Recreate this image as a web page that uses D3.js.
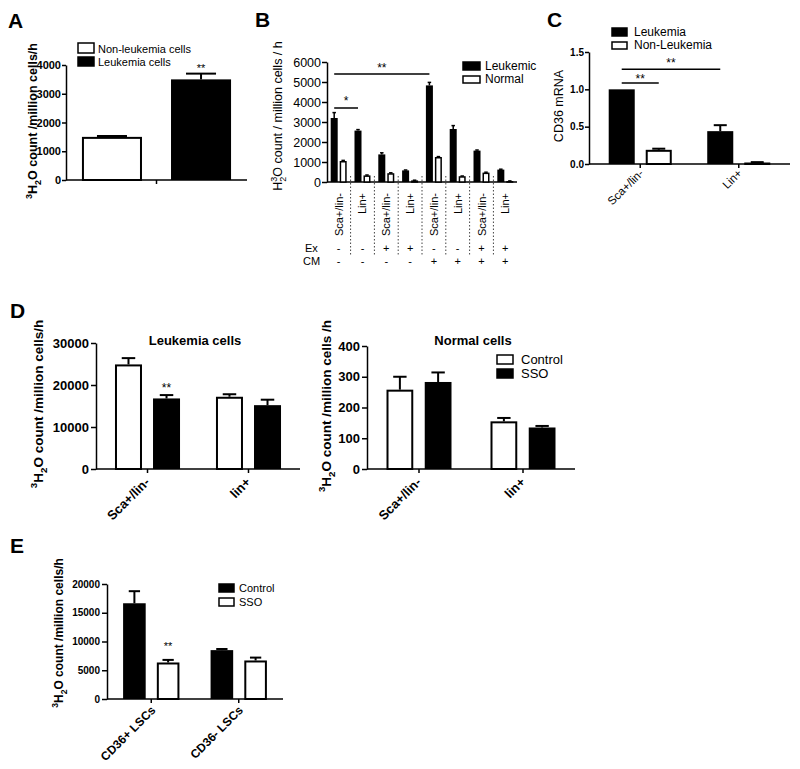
<!DOCTYPE html>
<html><head><meta charset="utf-8">
<script src="https://cdn.jsdelivr.net/npm/d3@7"></script>
<style>body{margin:0;background:#fff}svg{display:block}</style>
</head><body>
<script>
// ---------------- DATA ----------------
// Panel A
const aSeries = ["Non-leukemia cells", "Leukemia cells"];
const aValues = [1500, 3500];
const aErrTop = [1530, 3700];
const aTicks = [0, 1000, 2000, 3000, 4000];

// Panel B
const bGroups = ["Sca+/lin-", "Lin+", "Sca+/lin-", "Lin+", "Sca+/lin-", "Lin+", "Sca+/lin-", "Lin+"];
const bLeukemic = [3200, 2570, 1380, 580, 4830, 2650, 1570, 620];
const bLeukemicErr = [3470, 2620, 1460, 600, 4980, 2820, 1600, 640];
const bNormal = [1050, 330, 440, 80, 1250, 290, 470, 50];
const bNormalErr = [1080, 350, 460, 90, 1270, 300, 490, 55];
const bEx = ["-", "-", "+", "+", "-", "-", "+", "+"];
const bCM = ["-", "-", "-", "-", "+", "+", "+", "+"];
const bTicks = [0, 1000, 2000, 3000, 4000, 5000, 6000];

// Panel C
const cGroups = ["Sca+/lin-", "Lin+"];
const cLeukemia = [1.0, 0.44];
const cLeukemiaErr = [1.0, 0.52];
const cNonLeukemia = [0.19, 0.02];
const cNonLeukemiaErr = [0.205, 0.025];
const cTicks = [0, 0.5, 1.0, 1.5];

// Panel D (left: leukemia cells, right: normal cells)
const dGroups = ["Sca+/lin-", "lin+"];
const dLeukControl = [24900, 17200];
const dLeukControlErr = [26400, 17800];
const dLeukSSO = [16800, 15200];
const dLeukSSOErr = [17600, 16500];
const dLeukTicks = [0, 10000, 20000, 30000];
const dNormControl = [258, 155];
const dNormControlErr = [300, 166];
const dNormSSO = [283, 135];
const dNormSSOErr = [314, 140];
const dNormTicks = [0, 100, 200, 300, 400];

// Panel E
const eGroups = ["CD36+ LSCs", "CD36- LSCs"];
const eControl = [16650, 8500];
const eControlErr = [18750, 8700];
const eSSO = [6350, 6700];
const eSSOErr = [6800, 7200];
const eTicks = [0, 5000, 10000, 15000, 20000];

// ---------------- DRAWING ----------------
const FONT = "'Liberation Sans', Arial, Helvetica, sans-serif";
const svg = d3.select("body").append("svg").attr("width", 800).attr("height", 769)
  .attr("font-family", FONT);

function drawPanel(p) {
  const g = svg.append("g");
  const x = d3.scaleBand().domain(d3.range(p.labels.length)).range([p.x0, p.x1])
    .paddingInner(p.gIn).paddingOuter(p.gOut);
  const xs = d3.scaleBand().domain(p.series.map(s => s.name)).range([0, x.bandwidth()])
    .paddingInner(p.sIn);
  const y = d3.scaleLinear().domain([0, p.yMax]).range([p.yBase, p.yTop]);

  const ya = g.append("g").attr("transform", `translate(${p.x0},0)`)
    .call(d3.axisLeft(y).tickValues(p.ticks).tickSize(p.tickLen).tickSizeOuter(0)
      .tickPadding(p.tickPad).tickFormat(p.fmt || d3.format("d")));
  ya.select(".domain").attr("stroke", "#000").attr("stroke-width", 1.5);
  ya.selectAll(".tick line").attr("stroke", "#000").attr("stroke-width", 1.5);
  ya.selectAll(".tick text").attr("font-family", FONT).attr("font-size", p.tickSize)
    .attr("font-weight", p.tickBold ? "bold" : "normal").attr("fill", "#000");

  g.append("line").attr("x1", p.x0).attr("x2", p.x1).attr("y1", p.yBase).attr("y2", p.yBase)
    .attr("stroke", "#000").attr("stroke-width", 1.5);
  if (p.xTicks) {
    g.selectAll(null).data(d3.range(p.labels.length)).enter().append("line")
      .attr("x1", i => x(i) + x.bandwidth() / 2).attr("x2", i => x(i) + x.bandwidth() / 2)
      .attr("y1", p.yBase).attr("y2", p.yBase + 4).attr("stroke", "#000").attr("stroke-width", 1.5);
  }

  p.series.forEach(s => {
    const sw = p.barStroke;
    g.selectAll(null).data(s.values).enter().append("rect")
      .attr("x", (d, i) => x(i) + xs(s.name) + (s.fill === "#fff" ? sw / 2 : 0))
      .attr("y", d => y(d) + (s.fill === "#fff" ? sw / 2 : 0))
      .attr("width", xs.bandwidth() - (s.fill === "#fff" ? sw : 0))
      .attr("height", d => Math.max(0, p.yBase - y(d) - (s.fill === "#fff" ? sw / 2 : 0)))
      .attr("fill", s.fill).attr("stroke", "#000").attr("stroke-width", s.fill === "#fff" ? sw : 0);
    // error bars (upper only)
    const cw = xs.bandwidth() * 0.5;
    s.values.forEach((v, i) => {
      const e = s.err[i];
      if (e <= v) return;
      const cx = x(i) + xs(s.name) + xs.bandwidth() / 2;
      g.append("line").attr("x1", cx).attr("x2", cx).attr("y1", y(v)).attr("y2", y(e))
        .attr("stroke", "#000").attr("stroke-width", p.errStroke);
      g.append("line").attr("x1", cx - cw / 2).attr("x2", cx + cw / 2).attr("y1", y(e)).attr("y2", y(e))
        .attr("stroke", "#000").attr("stroke-width", p.errStroke);
    });
  });

  // x labels
  if (p.xLabelMode === "rot45") {
    g.selectAll(null).data(p.labels).enter().append("text")
      .attr("transform", (d, i) => `translate(${x(i) + x.bandwidth() / 2 + p.lx},${p.yBase + p.ly}) rotate(-45)`)
      .attr("text-anchor", "end").attr("font-size", p.labelSize)
      .attr("font-weight", p.labelBold ? "bold" : "normal").text(d => d);
  } else if (p.xLabelMode === "rot90") {
    g.selectAll(null).data(p.labels).enter().append("text")
      .attr("transform", (d, i) => `translate(${x(i) + x.bandwidth() / 2 + p.lx},${p.yBase + p.ly}) rotate(-90)`)
      .attr("text-anchor", "end").attr("font-size", p.labelSize)
      .attr("font-weight", p.labelBold ? "bold" : "normal").text(d => d);
  }
  return { x, xs, y, g };
}

function center(P, i, name) { return P.x(i) + P.xs(name) + P.xs.bandwidth() / 2; }

function bracket(P, i1, n1, i2, n2, val, label, size, textDy) {
  const x1 = center(P, i1, n1), x2 = center(P, i2, n2), yy = P.y(val);
  svg.append("line").attr("x1", x1).attr("x2", x2).attr("y1", yy).attr("y2", yy)
    .attr("stroke", "#000").attr("stroke-width", 1.5);
  svg.append("text").attr("x", (x1 + x2) / 2).attr("y", yy + textDy).attr("text-anchor", "middle")
    .attr("font-size", size).text(label);
}

function starAt(P, i, name, val, label, size) {
  svg.append("text").attr("x", center(P, i, name)).attr("y", P.y(val)).attr("text-anchor", "middle")
    .attr("font-size", size).text(label);
}

function legendItem(x, y, w, h, fill, label, tx, baseline, size) {
  svg.append("rect").attr("x", x).attr("y", y).attr("width", w).attr("height", h)
    .attr("fill", fill).attr("stroke", "#000").attr("stroke-width", 1.5);
  svg.append("text").attr("x", tx).attr("y", baseline).attr("font-size", size).text(label);
}

function yLabel3H2O(cx, cy, size, weight, rest) {
  const t = svg.append("text").attr("transform", `translate(${cx},${cy}) rotate(-90)`)
    .attr("text-anchor", "middle").attr("font-size", size).attr("font-weight", weight);
  t.append("tspan").attr("font-size", size * 0.72).attr("dy", -size * 0.42).text("3");
  t.append("tspan").attr("dy", size * 0.42).text("H");
  t.append("tspan").attr("font-size", size * 0.72).attr("dy", size * 0.3).text("2");
  t.append("tspan").attr("dy", -size * 0.3).text(rest);
}

function panelLetter(x, y, s) {
  svg.append("text").attr("x", x).attr("y", y).attr("font-size", 21).attr("font-weight", "bold").text(s);
}

// ---------- Panel A ----------
const PA = drawPanel({
  labels: [""], series: [
    { name: aSeries[0], values: [aValues[0]], err: [aErrTop[0]], fill: "#fff" },
    { name: aSeries[1], values: [aValues[1]], err: [aErrTop[1]], fill: "#000" }],
  x0: 66, x1: 247, yBase: 180, yTop: 65, yMax: 4000, ticks: aTicks,
  gIn: 0, gOut: 0.107, sIn: 0.326, tickLen: 4, tickPad: 1, tickSize: 11, tickBold: true,
  xTicks: true, barStroke: 2, errStroke: 2, xLabelMode: "none"
});
starAt(PA, 0, aSeries[1], 3757, "**", 11);
panelLetter(8, 28, "A");
yLabel3H2O(37, 121, 12.5, "bold", "O count /million cells/h");
legendItem(78, 43, 16, 10, "#fff", "Non-leukemia cells", 98, 53, 11);
legendItem(78, 57, 16, 9, "#000", "Leukemia cells", 98, 66, 11);

// ---------- Panel B ----------
const PB = drawPanel({
  labels: bGroups, series: [
    { name: "Leukemic", values: bLeukemic, err: bLeukemicErr, fill: "#000" },
    { name: "Normal", values: bNormal, err: bNormalErr, fill: "#fff" }],
  x0: 327, x1: 517, yBase: 182, yTop: 62, yMax: 6000, ticks: bTicks,
  gIn: 0.328, gOut: 0.155, sIn: 0.22, tickLen: 5, tickPad: 1, tickSize: 12.5, tickBold: false,
  xTicks: false, barStroke: 1.5, errStroke: 1.5, xLabelMode: "rot90", lx: 4, ly: 11, labelSize: 11, labelBold: false
});
// dotted separators
d3.range(1, bGroups.length).forEach(i => {
  const xx = (PB.x(i - 1) + PB.x.bandwidth() + PB.x(i)) / 2;
  svg.append("line").attr("x1", xx).attr("x2", xx).attr("y1", 176).attr("y2", 256)
    .attr("stroke", "#444").attr("stroke-width", 1).attr("stroke-dasharray", "1.5,2");
});
svg.append("text").attr("x", 305).attr("y", 252).attr("font-size", 11).text("Ex");
svg.append("text").attr("x", 303).attr("y", 265).attr("font-size", 11).text("CM");
bEx.forEach((s, i) => svg.append("text").attr("x", PB.x(i) + PB.x.bandwidth() / 2).attr("y", 252)
  .attr("text-anchor", "middle").attr("font-size", 11).text(s));
bCM.forEach((s, i) => svg.append("text").attr("x", PB.x(i) + PB.x.bandwidth() / 2).attr("y", 265)
  .attr("text-anchor", "middle").attr("font-size", 11).text(s));
bracket(PB, 0, "Leukemic", 4, "Leukemic", 5400, "**", 12, -2);
bracket(PB, 0, "Leukemic", 1, "Leukemic", 3700, "*", 12, -3);
panelLetter(255, 27, "B");
{
  const size = 12.5;
  const t = svg.append("text").attr("transform", `translate(282,116) rotate(-90)`)
    .attr("text-anchor", "middle").attr("font-size", size);
  t.append("tspan").text("H");
  t.append("tspan").attr("font-size", size * 0.72).attr("dy", -size * 0.42).text("3");
  t.append("tspan").attr("font-size", size * 0.72).attr("dx", -size * 0.72 * 0.556).attr("dy", size * 0.75).text("2");
  t.append("tspan").attr("dy", -size * 0.33).text("O count / million cells / h");
}
legendItem(463, 62, 17, 8, "#000", "Leukemic", 485, 70, 12);
legendItem(463, 76, 17, 7, "#fff", "Normal", 485, 83, 12);

// ---------- Panel C ----------
const PC = drawPanel({
  labels: cGroups, series: [
    { name: "Leukemia", values: cLeukemia, err: cLeukemiaErr, fill: "#000" },
    { name: "Non-Leukemia", values: cNonLeukemia, err: cNonLeukemiaErr, fill: "#fff" }],
  x0: 589, x1: 790, yBase: 164, yTop: 52, yMax: 1.5, ticks: cTicks, fmt: d3.format(".1f"),
  gIn: 0.36, gOut: 0.2, sIn: 0.297, tickLen: 4, tickPad: 1, tickSize: 10, tickBold: true,
  xTicks: true, barStroke: 2, errStroke: 2, xLabelMode: "rot45", lx: 4, ly: 10, labelSize: 11.5, labelBold: false
});
bracket(PC, 0, "Leukemia", 1, "Leukemia", 1.27, "**", 12, -2);
bracket(PC, 0, "Leukemia", 0, "Non-Leukemia", 1.085, "**", 12, 0);
panelLetter(547, 27, "C");
svg.append("text").attr("transform", "translate(563,106) rotate(-90)").attr("text-anchor", "middle")
  .attr("font-size", 12.5).text("CD36 mRNA");
legendItem(612, 28, 15, 8, "#000", "Leukemia", 634, 36, 12);
legendItem(612, 42, 15, 7, "#fff", "Non-Leukemia", 634, 49, 12);

// ---------- Panel D left ----------
const PDL = drawPanel({
  labels: dGroups, series: [
    { name: "Control", values: dLeukControl, err: dLeukControlErr, fill: "#fff" },
    { name: "SSO", values: dLeukSSO, err: dLeukSSOErr, fill: "#000" }],
  x0: 96, x1: 300, yBase: 469, yTop: 343, yMax: 30000, ticks: dLeukTicks,
  gIn: 0.356, gOut: 0.188, sIn: 0.29, tickLen: 5, tickPad: 2, tickSize: 13, tickBold: true,
  xTicks: true, barStroke: 2, errStroke: 2, xLabelMode: "rot45", lx: 3, ly: 14, labelSize: 13, labelBold: true
});
starAt(PDL, 0, "SSO", 18380, "**", 12);
svg.append("text").attr("x", 195).attr("y", 345).attr("text-anchor", "middle").attr("font-size", 13)
  .attr("font-weight", "bold").text("Leukemia cells");
panelLetter(10, 318, "D");
yLabel3H2O(43, 404, 13.5, "bold", "O count /million cells/h");

// ---------- Panel D right ----------
const PDR = drawPanel({
  labels: dGroups, series: [
    { name: "Control", values: dNormControl, err: dNormControlErr, fill: "#fff" },
    { name: "SSO", values: dNormSSO, err: dNormSSOErr, fill: "#000" }],
  x0: 367, x1: 575, yBase: 469, yTop: 346, yMax: 400, ticks: dNormTicks,
  gIn: 0.375, gOut: 0.1875, sIn: 0.3, tickLen: 5, tickPad: 2, tickSize: 13, tickBold: true,
  xTicks: true, barStroke: 2, errStroke: 2, xLabelMode: "rot45", lx: 3, ly: 14, labelSize: 13, labelBold: true
});
svg.append("text").attr("x", 473).attr("y", 345).attr("text-anchor", "middle").attr("font-size", 13)
  .attr("font-weight", "bold").text("Normal cells");
yLabel3H2O(331, 406, 13.5, "bold", "O count /million cells /h");
legendItem(497, 355, 16, 9, "#fff", "Control", 521, 364, 13);
legendItem(497, 369, 16, 9, "#000", "SSO", 521, 378, 13);

// ---------- Panel E ----------
const PE = drawPanel({
  labels: eGroups, series: [
    { name: "Control", values: eControl, err: eControlErr, fill: "#000" },
    { name: "SSO", values: eSSO, err: eSSOErr, fill: "#fff" }],
  x0: 107, x1: 283, yBase: 699, yTop: 584, yMax: 20000, ticks: eTicks,
  gIn: 0.356, gOut: 0.184, sIn: 0.33, tickLen: 5, tickPad: 2, tickSize: 10, tickBold: true,
  xTicks: true, barStroke: 2, errStroke: 2, xLabelMode: "rot45", lx: 5, ly: 12, labelSize: 12, labelBold: true
});
starAt(PE, 0, "SSO", 8550, "**", 11);
panelLetter(10, 553, "E");
yLabel3H2O(63, 633, 12, "bold", "O count /million cells/h");
legendItem(219, 584, 15, 8, "#000", "Control", 239, 592, 11);
legendItem(219, 598, 15, 8, "#fff", "SSO", 239, 606, 11);
</script>
</body></html>
